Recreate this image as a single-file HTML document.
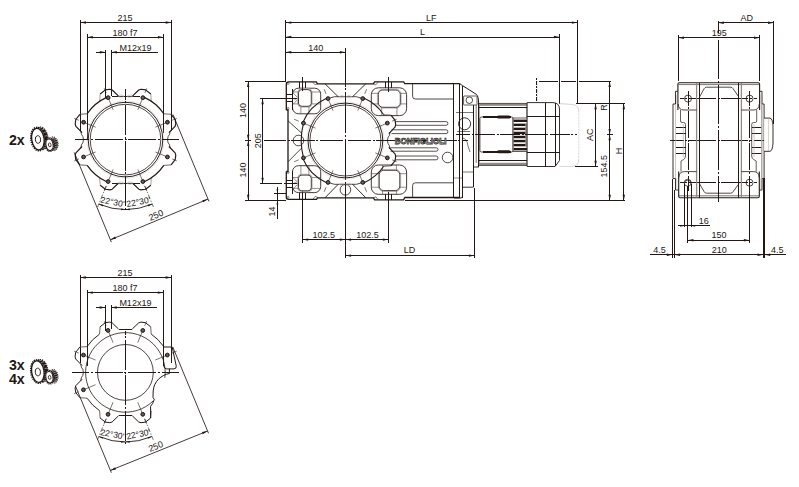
<!DOCTYPE html>
<html><head><meta charset="utf-8"><title>Dimensions</title>
<style>
html,body{margin:0;padding:0;background:#fff;}
body{width:799px;height:487px;overflow:hidden;}
svg{display:block;font-family:"Liberation Sans",sans-serif;}
</style></head><body>
<svg width="799" height="487" viewBox="0 0 799 487">
<rect x="0" y="0" width="799" height="487" fill="#ffffff"/>
<line x1="80.40" y1="22.50" x2="171.30" y2="22.50" stroke="#231815" stroke-width="1.0"  shape-rendering="crispEdges"/>
<polygon points="80.40,22.50 86.00,21.30 86.00,23.70" fill="#231815"/>
<polygon points="171.30,22.50 165.70,23.70 165.70,21.30" fill="#231815"/>
<line x1="80.40" y1="20.00" x2="80.40" y2="130.50" stroke="#231815" stroke-width="1.0"  shape-rendering="crispEdges"/>
<line x1="171.30" y1="20.00" x2="171.30" y2="130.50" stroke="#231815" stroke-width="1.0"  shape-rendering="crispEdges"/>
<text x="125.00" y="20.60" font-size="9" text-anchor="middle" font-weight="normal" fill="#231815" >215</text>
<line x1="87.30" y1="37.25" x2="163.50" y2="37.25" stroke="#231815" stroke-width="1.0"  shape-rendering="crispEdges"/>
<polygon points="87.30,37.25 92.90,36.05 92.90,38.45" fill="#231815"/>
<polygon points="163.50,37.25 157.90,38.45 157.90,36.05" fill="#231815"/>
<line x1="87.30" y1="34.45" x2="87.30" y2="139.60" stroke="#231815" stroke-width="1.0"  shape-rendering="crispEdges"/>
<line x1="163.50" y1="34.45" x2="163.50" y2="132.70" stroke="#231815" stroke-width="1.0"  shape-rendering="crispEdges"/>
<text x="125.00" y="35.55" font-size="9" text-anchor="middle" font-weight="normal" fill="#231815" >180 f7</text>
<line x1="96.00" y1="52.25" x2="105.40" y2="52.25" stroke="#231815" stroke-width="1.0"  shape-rendering="crispEdges"/>
<line x1="111.30" y1="52.25" x2="157.50" y2="52.25" stroke="#231815" stroke-width="1.0"  shape-rendering="crispEdges"/>
<polygon points="105.40,52.25 99.80,53.45 99.80,51.05" fill="#231815"/>
<polygon points="111.30,52.25 116.90,51.05 116.90,53.45" fill="#231815"/>
<line x1="105.40" y1="50.05" x2="105.40" y2="98.10" stroke="#231815" stroke-width="1.0"  shape-rendering="crispEdges"/>
<line x1="111.30" y1="50.05" x2="111.30" y2="96.30" stroke="#231815" stroke-width="1.0"  shape-rendering="crispEdges"/>
<text x="135.50" y="50.55" font-size="9" text-anchor="middle" font-weight="normal" fill="#231815" >M12x19</text>
<line x1="99.70" y1="101.30" x2="100.20" y2="94.00" stroke="#8f8a88" stroke-width="0.8" />
<path d="M100.20,94.00 L105.40,89.90 L109.90,89.30 L112.20,90.00 L118.60,96.20" stroke="#231815" stroke-width="1.15" fill="none" stroke-linejoin="round"/>
<line x1="151.30" y1="101.30" x2="150.80" y2="94.00" stroke="#8f8a88" stroke-width="0.8" />
<path d="M150.80,94.00 L145.60,89.90 L141.10,89.30 L138.80,90.00 L132.40,96.20" stroke="#231815" stroke-width="1.15" fill="none" stroke-linejoin="round"/>
<line x1="111.50" y1="96.20" x2="139.50" y2="96.20" stroke="#231815" stroke-width="1.0"  shape-rendering="crispEdges"/>
<line x1="163.80" y1="113.80" x2="171.10" y2="114.30" stroke="#4a403c" stroke-width="0.8" />
<path d="M171.10,114.30 L175.20,119.50 L175.80,124.00 L175.10,126.30 L168.90,132.70" stroke="#231815" stroke-width="1.15" fill="none" stroke-linejoin="round"/>
<line x1="163.80" y1="165.40" x2="171.10" y2="164.90" stroke="#4a403c" stroke-width="0.8" />
<path d="M171.10,164.90 L175.20,159.70 L175.80,155.20 L175.10,152.90 L168.90,146.50" stroke="#231815" stroke-width="1.15" fill="none" stroke-linejoin="round"/>
<path d="M170.10,131.20 Q170.10,134.60 168.10,136.60 Q166.90,139.60 168.10,142.60 Q170.10,144.60 170.10,148.00" stroke="#231815" stroke-width="0.8" fill="none" />
<line x1="99.70" y1="177.90" x2="100.20" y2="185.20" stroke="#8f8a88" stroke-width="0.8" />
<path d="M100.20,185.20 L105.40,189.30 L109.90,189.90 L112.20,189.20 L118.60,183.00" stroke="#231815" stroke-width="1.15" fill="none" stroke-linejoin="round"/>
<line x1="151.30" y1="177.90" x2="150.80" y2="185.20" stroke="#8f8a88" stroke-width="0.8" />
<path d="M150.80,185.20 L145.60,189.30 L141.10,189.90 L138.80,189.20 L132.40,183.00" stroke="#231815" stroke-width="1.15" fill="none" stroke-linejoin="round"/>
<line x1="111.50" y1="183.00" x2="139.50" y2="183.00" stroke="#231815" stroke-width="1.0"  shape-rendering="crispEdges"/>
<line x1="87.20" y1="113.80" x2="79.90" y2="114.30" stroke="#4a403c" stroke-width="0.8" />
<path d="M79.90,114.30 L75.80,119.50 L75.20,124.00 L75.90,126.30 L82.10,132.70" stroke="#231815" stroke-width="1.15" fill="none" stroke-linejoin="round"/>
<line x1="87.20" y1="165.40" x2="79.90" y2="164.90" stroke="#4a403c" stroke-width="0.8" />
<path d="M79.90,164.90 L75.80,159.70 L75.20,155.20 L75.90,152.90 L82.10,146.50" stroke="#231815" stroke-width="1.15" fill="none" stroke-linejoin="round"/>
<path d="M80.90,131.20 Q80.90,134.60 82.90,136.60 Q84.10,139.60 82.90,142.60 Q80.90,144.60 80.90,148.00" stroke="#231815" stroke-width="0.8" fill="none" />
<path d="M144.29,97.39 A46.2,46.2 0 0 1 163.80,113.77" stroke="#231815" stroke-width="1.2" fill="none" />
<path d="M163.80,165.43 A46.2,46.2 0 0 1 144.29,181.81" stroke="#231815" stroke-width="1.2" fill="none" />
<path d="M106.71,181.81 A46.2,46.2 0 0 1 87.20,165.43" stroke="#231815" stroke-width="1.2" fill="none" />
<path d="M87.20,113.77 A46.2,46.2 0 0 1 106.71,97.39" stroke="#231815" stroke-width="1.2" fill="none" />
<circle cx="125.50" cy="139.60" r="38.60" stroke="#bdb8b6" stroke-width="0.35" fill="none" />
<circle cx="125.50" cy="139.60" r="37.30" stroke="#231815" stroke-width="0.95" fill="none" />
<circle cx="125.50" cy="139.60" r="35.30" stroke="#231815" stroke-width="0.8" fill="none" />
<ellipse cx="121.10" cy="96.10" rx="2.80" ry="1.00" stroke="#b9b4b2" stroke-width="0.7" fill="none" />
<ellipse cx="129.90" cy="96.10" rx="2.80" ry="1.00" stroke="#b9b4b2" stroke-width="0.7" fill="none" />
<ellipse cx="121.10" cy="183.10" rx="2.80" ry="1.00" stroke="#b9b4b2" stroke-width="0.7" fill="none" />
<ellipse cx="129.90" cy="183.10" rx="2.80" ry="1.00" stroke="#b9b4b2" stroke-width="0.7" fill="none" />
<line x1="137.86" y1="109.76" x2="142.87" y2="97.66" stroke="#231815" stroke-width="0.6" />
<line x1="144.83" y1="92.94" x2="146.74" y2="88.32" stroke="#231815" stroke-width="0.6" />
<circle cx="142.87" cy="97.66" r="1.90" stroke="#231815" stroke-width="1.0" fill="#585150" />
<circle cx="142.87" cy="97.66" r="0.60" stroke="#231815" stroke-width="0.35" fill="#cfcac8" />
<line x1="155.34" y1="127.24" x2="167.44" y2="122.23" stroke="#231815" stroke-width="0.6" />
<line x1="172.16" y1="120.27" x2="176.78" y2="118.36" stroke="#231815" stroke-width="0.6" />
<circle cx="167.44" cy="122.23" r="1.90" stroke="#231815" stroke-width="1.0" fill="#585150" />
<circle cx="167.44" cy="122.23" r="0.60" stroke="#231815" stroke-width="0.35" fill="#cfcac8" />
<line x1="155.34" y1="151.96" x2="167.44" y2="156.97" stroke="#231815" stroke-width="0.6" />
<line x1="172.16" y1="158.93" x2="176.78" y2="160.84" stroke="#231815" stroke-width="0.6" />
<circle cx="167.44" cy="156.97" r="1.90" stroke="#231815" stroke-width="1.0" fill="#585150" />
<circle cx="167.44" cy="156.97" r="0.60" stroke="#231815" stroke-width="0.35" fill="#cfcac8" />
<line x1="137.86" y1="169.44" x2="142.87" y2="181.54" stroke="#231815" stroke-width="0.6" />
<line x1="144.83" y1="186.26" x2="146.74" y2="190.88" stroke="#231815" stroke-width="0.6" />
<circle cx="142.87" cy="181.54" r="1.90" stroke="#231815" stroke-width="1.0" fill="#585150" />
<circle cx="142.87" cy="181.54" r="0.60" stroke="#231815" stroke-width="0.35" fill="#cfcac8" />
<line x1="113.14" y1="169.44" x2="108.13" y2="181.54" stroke="#231815" stroke-width="0.6" />
<line x1="106.17" y1="186.26" x2="104.26" y2="190.88" stroke="#231815" stroke-width="0.6" />
<circle cx="108.13" cy="181.54" r="1.90" stroke="#231815" stroke-width="1.0" fill="#585150" />
<circle cx="108.13" cy="181.54" r="0.60" stroke="#231815" stroke-width="0.35" fill="#cfcac8" />
<line x1="95.66" y1="151.96" x2="83.56" y2="156.97" stroke="#231815" stroke-width="0.6" />
<line x1="78.84" y1="158.93" x2="74.22" y2="160.84" stroke="#231815" stroke-width="0.6" />
<circle cx="83.56" cy="156.97" r="1.90" stroke="#231815" stroke-width="1.0" fill="#585150" />
<circle cx="83.56" cy="156.97" r="0.60" stroke="#231815" stroke-width="0.35" fill="#cfcac8" />
<line x1="95.66" y1="127.24" x2="83.56" y2="122.23" stroke="#231815" stroke-width="0.6" />
<line x1="78.84" y1="120.27" x2="74.22" y2="118.36" stroke="#231815" stroke-width="0.6" />
<circle cx="83.56" cy="122.23" r="1.90" stroke="#231815" stroke-width="1.0" fill="#585150" />
<circle cx="83.56" cy="122.23" r="0.60" stroke="#231815" stroke-width="0.35" fill="#cfcac8" />
<line x1="113.14" y1="109.76" x2="108.13" y2="97.66" stroke="#231815" stroke-width="0.6" />
<line x1="106.17" y1="92.94" x2="104.26" y2="88.32" stroke="#231815" stroke-width="0.6" />
<circle cx="108.13" cy="97.66" r="1.90" stroke="#231815" stroke-width="1.0" fill="#585150" />
<circle cx="108.13" cy="97.66" r="0.60" stroke="#231815" stroke-width="0.35" fill="#cfcac8" />
<line x1="125.50" y1="88.80" x2="125.50" y2="210.50" stroke="#231815" stroke-width="1.0" stroke-dasharray="30.0 1.7 2.0 1.7" stroke-dashoffset="19.10" shape-rendering="crispEdges"/>
<line x1="74.80" y1="139.60" x2="178.80" y2="139.60" stroke="#231815" stroke-width="1.0" stroke-dasharray="28.2 1.7 2.0 1.7" stroke-dashoffset="13.80" shape-rendering="crispEdges"/>
<line x1="106.37" y1="185.79" x2="97.56" y2="207.04" stroke="#231815" stroke-width="0.6" stroke-dasharray="5 1.5 1.5 1.5"/>
<line x1="144.63" y1="185.79" x2="153.44" y2="207.04" stroke="#231815" stroke-width="0.6" stroke-dasharray="5 1.5 1.5 1.5"/>
<path d="M98.79,204.09 A69.8,69.8 0 0 0 152.21,204.09" stroke="#231815" stroke-width="0.9" fill="none" />
<polygon points="98.79,204.09 103.24,204.71 102.64,206.40" fill="#231815"/>
<polygon points="152.21,204.09 148.36,206.40 147.76,204.71" fill="#231815"/>
<polygon points="125.50,209.40 121.10,210.30 121.10,208.50" fill="#231815"/>
<polygon points="125.50,209.40 129.90,208.50 129.90,210.30" fill="#231815"/>
<text x="111.90" y="204.80" font-size="8.6" text-anchor="middle" font-weight="normal" fill="#231815" transform="rotate(11 111.90 204.80)" >22°30'</text>
<text x="138.90" y="204.80" font-size="8.6" text-anchor="middle" font-weight="normal" fill="#231815" transform="rotate(-11 138.90 204.80)" >22°30'</text>
<line x1="110.40" y1="239.80" x2="208.00" y2="199.10" stroke="#231815" stroke-width="0.85" />
<polygon points="110.40,239.80 115.11,236.54 116.03,238.75" fill="#231815"/>
<polygon points="208.00,199.10 203.29,202.36 202.37,200.15" fill="#231815"/>
<line x1="74.24" y1="152.50" x2="111.36" y2="242.11" stroke="#231815" stroke-width="0.85" />
<line x1="172.96" y1="114.50" x2="208.96" y2="201.41" stroke="#231815" stroke-width="0.85" />
<text x="157.10" y="218.05" font-size="9" text-anchor="middle" font-weight="normal" fill="#231815" transform="rotate(-22.63653644811932 157.10 218.05)" >250</text>
<text x="16.80" y="144.70" font-size="14.2" text-anchor="middle" font-weight="bold" fill="#231815" >2x</text>
<g transform="translate(37.90 139.10)">
<g transform="rotate(-8)">
<ellipse cx="3.6" cy="-0.3" rx="6.4" ry="11.2" fill="#231815" stroke="#231815" stroke-width="1.6" stroke-dasharray="1.3 0.9"/>
<ellipse cx="0" cy="0" rx="6.9" ry="11.7" fill="#fff" stroke="#231815" stroke-width="1.7" stroke-dasharray="1.3 0.9"/>
<ellipse cx="0" cy="0" rx="6.2" ry="10.9" fill="#fff" stroke="#231815" stroke-width="1.3"/>
<ellipse cx="0" cy="0.4" rx="2.6" ry="3.8" fill="#fff" stroke="#231815" stroke-width="0.9"/>
<line x1="2.86" y1="-10.52" x2="5.86" y2="-10.92" stroke="#fff" stroke-width="0.45"/>
<line x1="4.84" y1="-8.58" x2="7.84" y2="-8.98" stroke="#fff" stroke-width="0.45"/>
<line x1="6.32" y1="-5.60" x2="9.32" y2="-6.00" stroke="#fff" stroke-width="0.45"/>
<line x1="7.10" y1="-1.94" x2="10.10" y2="-2.34" stroke="#fff" stroke-width="0.45"/>
<line x1="6.98" y1="2.90" x2="9.98" y2="2.50" stroke="#fff" stroke-width="0.45"/>
<line x1="5.66" y1="7.20" x2="8.66" y2="6.80" stroke="#fff" stroke-width="0.45"/>
<line x1="3.90" y1="9.70" x2="6.90" y2="9.30" stroke="#fff" stroke-width="0.45"/>
</g>
<g transform="translate(11.6 5.6) rotate(-8)">
<ellipse cx="4.2" cy="-0.4" rx="4.2" ry="6.6" fill="#231815" stroke="#231815" stroke-width="1.4" stroke-dasharray="1.1 0.8"/>
<line x1="1.89" y1="-6.38" x2="5.69" y2="-6.88" stroke="#fff" stroke-width="0.45"/>
<line x1="3.21" y1="-5.41" x2="7.01" y2="-5.91" stroke="#fff" stroke-width="0.45"/>
<line x1="4.24" y1="-3.79" x2="8.04" y2="-4.29" stroke="#fff" stroke-width="0.45"/>
<line x1="4.86" y1="-1.71" x2="8.66" y2="-2.21" stroke="#fff" stroke-width="0.45"/>
<line x1="4.98" y1="0.58" x2="8.78" y2="0.08" stroke="#fff" stroke-width="0.45"/>
<line x1="4.61" y1="2.79" x2="8.41" y2="2.29" stroke="#fff" stroke-width="0.45"/>
<line x1="3.77" y1="4.67" x2="7.57" y2="4.17" stroke="#fff" stroke-width="0.45"/>
<line x1="2.57" y1="5.98" x2="6.37" y2="5.48" stroke="#fff" stroke-width="0.45"/>
<ellipse cx="0" cy="0" rx="4.3" ry="6.7" fill="#fff" stroke="#231815" stroke-width="1.5" stroke-dasharray="1.1 0.8"/>
<ellipse cx="0" cy="0" rx="3.6" ry="5.8" fill="#fff" stroke="#231815" stroke-width="1.1"/>
<ellipse cx="0.2" cy="0.2" rx="1.3" ry="2.0" fill="#fff" stroke="#231815" stroke-width="0.8"/>
</g>
</g>
<line x1="80.30" y1="277.50" x2="171.20" y2="277.50" stroke="#231815" stroke-width="1.0"  shape-rendering="crispEdges"/>
<polygon points="80.30,277.50 85.90,276.30 85.90,278.70" fill="#231815"/>
<polygon points="171.20,277.50 165.60,278.70 165.60,276.30" fill="#231815"/>
<line x1="80.30" y1="275.00" x2="80.30" y2="363.00" stroke="#231815" stroke-width="1.0"  shape-rendering="crispEdges"/>
<line x1="171.20" y1="275.00" x2="171.20" y2="363.00" stroke="#231815" stroke-width="1.0"  shape-rendering="crispEdges"/>
<text x="124.90" y="275.60" font-size="9" text-anchor="middle" font-weight="normal" fill="#231815" >215</text>
<line x1="87.20" y1="292.60" x2="163.40" y2="292.60" stroke="#231815" stroke-width="1.0"  shape-rendering="crispEdges"/>
<polygon points="87.20,292.60 92.80,291.40 92.80,293.80" fill="#231815"/>
<polygon points="163.40,292.60 157.80,293.80 157.80,291.40" fill="#231815"/>
<line x1="87.20" y1="289.80" x2="87.20" y2="365.50" stroke="#231815" stroke-width="1.0"  shape-rendering="crispEdges"/>
<line x1="163.40" y1="289.80" x2="163.40" y2="365.50" stroke="#231815" stroke-width="1.0"  shape-rendering="crispEdges"/>
<text x="124.90" y="290.90" font-size="9" text-anchor="middle" font-weight="normal" fill="#231815" >180 f7</text>
<line x1="95.90" y1="307.50" x2="105.30" y2="307.50" stroke="#231815" stroke-width="1.0"  shape-rendering="crispEdges"/>
<line x1="111.20" y1="307.50" x2="157.40" y2="307.50" stroke="#231815" stroke-width="1.0"  shape-rendering="crispEdges"/>
<polygon points="105.30,307.50 99.70,308.70 99.70,306.30" fill="#231815"/>
<polygon points="111.20,307.50 116.80,306.30 116.80,308.70" fill="#231815"/>
<line x1="105.30" y1="305.30" x2="105.30" y2="331.20" stroke="#231815" stroke-width="1.0"  shape-rendering="crispEdges"/>
<line x1="111.20" y1="305.30" x2="111.20" y2="329.40" stroke="#231815" stroke-width="1.0"  shape-rendering="crispEdges"/>
<text x="135.40" y="305.80" font-size="9" text-anchor="middle" font-weight="normal" fill="#231815" >M12x19</text>
<line x1="99.60" y1="334.10" x2="100.10" y2="326.80" stroke="#4a403c" stroke-width="0.8" />
<path d="M100.10,326.80 L105.30,322.70 L109.80,322.10 L112.10,322.80 L118.50,329.00" stroke="#231815" stroke-width="1.0" fill="none" stroke-linejoin="round"/>
<line x1="151.20" y1="334.10" x2="150.70" y2="326.80" stroke="#4a403c" stroke-width="0.8" />
<path d="M150.70,326.80 L145.50,322.70 L141.00,322.10 L138.70,322.80 L132.30,329.00" stroke="#231815" stroke-width="1.0" fill="none" stroke-linejoin="round"/>
<line x1="118.50" y1="329.00" x2="132.30" y2="329.00" stroke="#231815" stroke-width="1.0"  shape-rendering="crispEdges"/>
<line x1="99.60" y1="410.70" x2="100.10" y2="418.00" stroke="#4a403c" stroke-width="0.8" />
<path d="M100.10,418.00 L105.30,422.10 L109.80,422.70 L112.10,422.00 L118.50,415.80" stroke="#231815" stroke-width="1.0" fill="none" stroke-linejoin="round"/>
<line x1="151.20" y1="410.70" x2="150.70" y2="418.00" stroke="#4a403c" stroke-width="0.8" />
<path d="M150.70,418.00 L145.50,422.10 L141.00,422.70 L138.70,422.00 L132.30,415.80" stroke="#231815" stroke-width="1.0" fill="none" stroke-linejoin="round"/>
<line x1="118.50" y1="415.80" x2="132.30" y2="415.80" stroke="#231815" stroke-width="1.0"  shape-rendering="crispEdges"/>
<line x1="87.10" y1="346.60" x2="79.80" y2="347.10" stroke="#4a403c" stroke-width="0.8" />
<path d="M79.80,347.10 L75.70,352.30 L75.10,356.80 L75.80,359.10 L82.00,365.50" stroke="#231815" stroke-width="1.0" fill="none" stroke-linejoin="round"/>
<line x1="87.10" y1="398.20" x2="79.80" y2="397.70" stroke="#4a403c" stroke-width="0.8" />
<path d="M79.80,397.70 L75.70,392.50 L75.10,388.00 L75.80,385.70 L82.00,379.30" stroke="#231815" stroke-width="1.0" fill="none" stroke-linejoin="round"/>
<path d="M80.80,364.00 Q80.80,367.40 82.80,369.40 Q84.00,372.40 82.80,375.40 Q80.80,377.40 80.80,380.80" stroke="#231815" stroke-width="0.8" fill="none" />
<path d="M151.23,334.10 A46.2,46.2 0 0 1 163.70,346.57" stroke="#231815" stroke-width="0.95" fill="none" />
<path d="M99.57,410.70 A46.2,46.2 0 0 1 87.10,398.23" stroke="#231815" stroke-width="0.95" fill="none" />
<path d="M87.10,346.57 A46.2,46.2 0 0 1 99.57,334.10" stroke="#231815" stroke-width="0.95" fill="none" />
<path d="M163.70,347.00 H172.20 L176.20,365.80 Q176.70,368.90 174.00,368.90 H166.60 Q163.90,368.90 163.80,365.40" stroke="#231815" stroke-width="1.0" fill="none" />
<path d="M169.40,368.90 V373.50 C161.40,374.90 153.80,381.40 153.20,390.90 L153.00,397.40 L154.30,399.40 L152.60,403.50 L150.60,406.30 V418.00" stroke="#231815" stroke-width="1.0" fill="none" />
<path d="M153.05,401.03 A39.8,39.8 0 1 1 164.81,377.94" stroke="#231815" stroke-width="0.8" fill="none" />
<circle cx="125.40" cy="372.40" r="27.90" stroke="#231815" stroke-width="0.8" fill="none" />
<line x1="137.76" y1="342.56" x2="142.77" y2="330.46" stroke="#231815" stroke-width="0.6" />
<line x1="144.73" y1="325.74" x2="146.64" y2="321.12" stroke="#231815" stroke-width="0.6" />
<circle cx="142.77" cy="330.46" r="1.90" stroke="#231815" stroke-width="1.0" fill="#585150" />
<circle cx="142.77" cy="330.46" r="0.60" stroke="#231815" stroke-width="0.35" fill="#cfcac8" />
<line x1="155.24" y1="360.04" x2="167.34" y2="355.03" stroke="#231815" stroke-width="0.6" />
<line x1="172.06" y1="353.07" x2="176.68" y2="351.16" stroke="#231815" stroke-width="0.6" />
<circle cx="167.34" cy="355.03" r="1.90" stroke="#231815" stroke-width="1.0" fill="#585150" />
<circle cx="167.34" cy="355.03" r="0.60" stroke="#231815" stroke-width="0.35" fill="#cfcac8" />
<line x1="137.76" y1="402.24" x2="142.77" y2="414.34" stroke="#231815" stroke-width="0.6" />
<line x1="144.73" y1="419.06" x2="146.64" y2="423.68" stroke="#231815" stroke-width="0.6" />
<circle cx="142.77" cy="414.34" r="1.90" stroke="#231815" stroke-width="1.0" fill="#585150" />
<circle cx="142.77" cy="414.34" r="0.60" stroke="#231815" stroke-width="0.35" fill="#cfcac8" />
<line x1="113.04" y1="402.24" x2="108.03" y2="414.34" stroke="#231815" stroke-width="0.6" />
<line x1="106.07" y1="419.06" x2="104.16" y2="423.68" stroke="#231815" stroke-width="0.6" />
<circle cx="108.03" cy="414.34" r="1.90" stroke="#231815" stroke-width="1.0" fill="#585150" />
<circle cx="108.03" cy="414.34" r="0.60" stroke="#231815" stroke-width="0.35" fill="#cfcac8" />
<line x1="95.56" y1="384.76" x2="83.46" y2="389.77" stroke="#231815" stroke-width="0.6" />
<line x1="78.74" y1="391.73" x2="74.12" y2="393.64" stroke="#231815" stroke-width="0.6" />
<circle cx="83.46" cy="389.77" r="1.90" stroke="#231815" stroke-width="1.0" fill="#585150" />
<circle cx="83.46" cy="389.77" r="0.60" stroke="#231815" stroke-width="0.35" fill="#cfcac8" />
<line x1="95.56" y1="360.04" x2="83.46" y2="355.03" stroke="#231815" stroke-width="0.6" />
<line x1="78.74" y1="353.07" x2="74.12" y2="351.16" stroke="#231815" stroke-width="0.6" />
<circle cx="83.46" cy="355.03" r="1.90" stroke="#231815" stroke-width="1.0" fill="#585150" />
<circle cx="83.46" cy="355.03" r="0.60" stroke="#231815" stroke-width="0.35" fill="#cfcac8" />
<line x1="113.04" y1="342.56" x2="108.03" y2="330.46" stroke="#231815" stroke-width="0.6" />
<line x1="106.07" y1="325.74" x2="104.16" y2="321.12" stroke="#231815" stroke-width="0.6" />
<circle cx="108.03" cy="330.46" r="1.90" stroke="#231815" stroke-width="1.0" fill="#585150" />
<circle cx="108.03" cy="330.46" r="0.60" stroke="#231815" stroke-width="0.35" fill="#cfcac8" />
<line x1="125.40" y1="330.50" x2="125.40" y2="443.50" stroke="#231815" stroke-width="1.0" stroke-dasharray="30.0 1.7 2.0 1.7" stroke-dashoffset="26.00" shape-rendering="crispEdges"/>
<line x1="71.50" y1="372.40" x2="179.00" y2="372.40" stroke="#231815" stroke-width="1.0" stroke-dasharray="28.2 1.7 2.0 1.7" stroke-dashoffset="10.60" shape-rendering="crispEdges"/>
<line x1="106.27" y1="418.59" x2="97.46" y2="439.84" stroke="#231815" stroke-width="0.6" stroke-dasharray="5 1.5 1.5 1.5"/>
<line x1="144.53" y1="418.59" x2="153.34" y2="439.84" stroke="#231815" stroke-width="0.6" stroke-dasharray="5 1.5 1.5 1.5"/>
<path d="M98.84,436.52 A69.4,69.4 0 0 0 151.96,436.52" stroke="#231815" stroke-width="0.9" fill="none" />
<polygon points="98.84,436.52 103.29,437.14 102.69,438.83" fill="#231815"/>
<polygon points="151.96,436.52 148.11,438.83 147.51,437.14" fill="#231815"/>
<polygon points="125.40,441.80 121.00,442.70 121.00,440.90" fill="#231815"/>
<polygon points="125.40,441.80 129.80,440.90 129.80,442.70" fill="#231815"/>
<text x="111.80" y="437.20" font-size="8.6" text-anchor="middle" font-weight="normal" fill="#231815" transform="rotate(11 111.80 437.20)" >22°30'</text>
<text x="138.80" y="437.20" font-size="8.6" text-anchor="middle" font-weight="normal" fill="#231815" transform="rotate(-11 138.80 437.20)" >22°30'</text>
<line x1="110.40" y1="470.40" x2="207.60" y2="431.00" stroke="#231815" stroke-width="0.85" />
<polygon points="110.40,470.40 115.14,467.18 116.04,469.41" fill="#231815"/>
<polygon points="207.60,431.00 202.86,434.22 201.96,431.99" fill="#231815"/>
<line x1="75.44" y1="386.00" x2="111.36" y2="472.71" stroke="#231815" stroke-width="0.85" />
<line x1="172.81" y1="347.00" x2="208.56" y2="433.31" stroke="#231815" stroke-width="0.85" />
<text x="156.91" y="449.28" font-size="9" text-anchor="middle" font-weight="normal" fill="#231815" transform="rotate(-22.065162982218705 156.91 449.28)" >250</text>
<text x="16.80" y="369.80" font-size="14.2" text-anchor="middle" font-weight="bold" fill="#231815" >3x</text>
<text x="16.80" y="383.80" font-size="14.2" text-anchor="middle" font-weight="bold" fill="#231815" >4x</text>
<g transform="translate(37.80 371.60)">
<g transform="rotate(-8)">
<ellipse cx="3.6" cy="-0.3" rx="6.4" ry="11.2" fill="#231815" stroke="#231815" stroke-width="1.6" stroke-dasharray="1.3 0.9"/>
<ellipse cx="0" cy="0" rx="6.9" ry="11.7" fill="#fff" stroke="#231815" stroke-width="1.7" stroke-dasharray="1.3 0.9"/>
<ellipse cx="0" cy="0" rx="6.2" ry="10.9" fill="#fff" stroke="#231815" stroke-width="1.3"/>
<ellipse cx="0" cy="0.4" rx="2.6" ry="3.8" fill="#fff" stroke="#231815" stroke-width="0.9"/>
<line x1="2.86" y1="-10.52" x2="5.86" y2="-10.92" stroke="#fff" stroke-width="0.45"/>
<line x1="4.84" y1="-8.58" x2="7.84" y2="-8.98" stroke="#fff" stroke-width="0.45"/>
<line x1="6.32" y1="-5.60" x2="9.32" y2="-6.00" stroke="#fff" stroke-width="0.45"/>
<line x1="7.10" y1="-1.94" x2="10.10" y2="-2.34" stroke="#fff" stroke-width="0.45"/>
<line x1="6.98" y1="2.90" x2="9.98" y2="2.50" stroke="#fff" stroke-width="0.45"/>
<line x1="5.66" y1="7.20" x2="8.66" y2="6.80" stroke="#fff" stroke-width="0.45"/>
<line x1="3.90" y1="9.70" x2="6.90" y2="9.30" stroke="#fff" stroke-width="0.45"/>
</g>
<g transform="translate(11.6 5.6) rotate(-8)">
<ellipse cx="4.2" cy="-0.4" rx="4.2" ry="6.6" fill="#231815" stroke="#231815" stroke-width="1.4" stroke-dasharray="1.1 0.8"/>
<line x1="1.89" y1="-6.38" x2="5.69" y2="-6.88" stroke="#fff" stroke-width="0.45"/>
<line x1="3.21" y1="-5.41" x2="7.01" y2="-5.91" stroke="#fff" stroke-width="0.45"/>
<line x1="4.24" y1="-3.79" x2="8.04" y2="-4.29" stroke="#fff" stroke-width="0.45"/>
<line x1="4.86" y1="-1.71" x2="8.66" y2="-2.21" stroke="#fff" stroke-width="0.45"/>
<line x1="4.98" y1="0.58" x2="8.78" y2="0.08" stroke="#fff" stroke-width="0.45"/>
<line x1="4.61" y1="2.79" x2="8.41" y2="2.29" stroke="#fff" stroke-width="0.45"/>
<line x1="3.77" y1="4.67" x2="7.57" y2="4.17" stroke="#fff" stroke-width="0.45"/>
<line x1="2.57" y1="5.98" x2="6.37" y2="5.48" stroke="#fff" stroke-width="0.45"/>
<ellipse cx="0" cy="0" rx="4.3" ry="6.7" fill="#fff" stroke="#231815" stroke-width="1.5" stroke-dasharray="1.1 0.8"/>
<ellipse cx="0" cy="0" rx="3.6" ry="5.8" fill="#fff" stroke="#231815" stroke-width="1.1"/>
<ellipse cx="0.2" cy="0.2" rx="1.3" ry="2.0" fill="#fff" stroke="#231815" stroke-width="0.8"/>
</g>
</g>
<line x1="285.70" y1="22.60" x2="577.50" y2="22.60" stroke="#231815" stroke-width="1.0"  shape-rendering="crispEdges"/>
<polygon points="285.70,22.60 291.30,21.40 291.30,23.80" fill="#231815"/>
<polygon points="577.50,22.60 571.90,23.80 571.90,21.40" fill="#231815"/>
<line x1="285.70" y1="20.20" x2="285.70" y2="81.30" stroke="#231815" stroke-width="1.0"  shape-rendering="crispEdges"/>
<line x1="577.50" y1="20.20" x2="577.50" y2="103.90" stroke="#231815" stroke-width="1.0"  shape-rendering="crispEdges"/>
<text x="431.30" y="20.60" font-size="9" text-anchor="middle" font-weight="normal" fill="#231815" >LF</text>
<line x1="285.70" y1="37.00" x2="559.50" y2="37.00" stroke="#231815" stroke-width="1.0"  shape-rendering="crispEdges"/>
<polygon points="285.70,37.00 291.30,35.80 291.30,38.20" fill="#231815"/>
<polygon points="559.50,37.00 553.90,38.20 553.90,35.80" fill="#231815"/>
<line x1="559.50" y1="34.00" x2="559.50" y2="103.90" stroke="#231815" stroke-width="1.0"  shape-rendering="crispEdges"/>
<text x="422.40" y="35.20" font-size="9" text-anchor="middle" font-weight="normal" fill="#231815" >L</text>
<line x1="285.70" y1="52.30" x2="345.50" y2="52.30" stroke="#231815" stroke-width="1.0"  shape-rendering="crispEdges"/>
<polygon points="285.70,52.30 291.30,51.10 291.30,53.50" fill="#231815"/>
<polygon points="345.50,52.30 339.90,53.50 339.90,51.10" fill="#231815"/>
<text x="315.70" y="50.60" font-size="9" text-anchor="middle" font-weight="normal" fill="#231815" >140</text>
<line x1="345.40" y1="48.30" x2="345.40" y2="203.00" stroke="#231815" stroke-width="1.0" stroke-dasharray="41.3 1.7 2.0 1.7" stroke-dashoffset="3.10" shape-rendering="crispEdges"/>
<line x1="345.40" y1="200.50" x2="345.40" y2="258.00" stroke="#231815" stroke-width="1.0"  shape-rendering="crispEdges"/>
<line x1="245.00" y1="140.40" x2="251.00" y2="140.40" stroke="#231815" stroke-width="1.0"  shape-rendering="crispEdges"/>
<line x1="264.00" y1="140.40" x2="468.00" y2="140.40" stroke="#231815" stroke-width="1.0" stroke-dasharray="23.4 1.6 1.8 1.6" stroke-dashoffset="1.30" shape-rendering="crispEdges"/>
<line x1="245.00" y1="81.50" x2="285.70" y2="81.50" stroke="#231815" stroke-width="1.0"  shape-rendering="crispEdges"/>
<line x1="245.00" y1="200.30" x2="285.80" y2="200.30" stroke="#231815" stroke-width="1.0"  shape-rendering="crispEdges"/>
<line x1="248.20" y1="81.50" x2="248.20" y2="200.30" stroke="#231815" stroke-width="1.0"  shape-rendering="crispEdges"/>
<polygon points="248.20,81.50 249.40,87.10 247.00,87.10" fill="#231815"/>
<polygon points="248.20,140.40 247.00,134.80 249.40,134.80" fill="#231815"/>
<polygon points="248.20,140.40 249.40,146.00 247.00,146.00" fill="#231815"/>
<polygon points="248.20,200.30 247.00,194.70 249.40,194.70" fill="#231815"/>
<text x="246.30" y="110.40" font-size="9" text-anchor="middle" font-weight="normal" fill="#231815" transform="rotate(-90 246.30 110.40)" >140</text>
<text x="246.30" y="170.10" font-size="9" text-anchor="middle" font-weight="normal" fill="#231815" transform="rotate(-90 246.30 170.10)" >140</text>
<line x1="260.00" y1="98.60" x2="298.50" y2="98.60" stroke="#231815" stroke-width="1.0"  shape-rendering="crispEdges"/>
<line x1="260.00" y1="183.30" x2="282.00" y2="183.30" stroke="#231815" stroke-width="1.0"  shape-rendering="crispEdges"/>
<line x1="283.50" y1="183.30" x2="298.50" y2="183.30" stroke="#231815" stroke-width="1.0"  shape-rendering="crispEdges"/>
<line x1="262.60" y1="98.60" x2="262.60" y2="183.30" stroke="#231815" stroke-width="1.0"  shape-rendering="crispEdges"/>
<polygon points="262.60,98.60 263.80,104.20 261.40,104.20" fill="#231815"/>
<polygon points="262.60,183.30 261.40,177.70 263.80,177.70" fill="#231815"/>
<polygon points="298.80,98.60 294.60,99.50 294.60,97.70" fill="#231815"/>
<polygon points="298.80,183.30 294.60,184.20 294.60,182.40" fill="#231815"/>
<text x="260.80" y="140.70" font-size="9" text-anchor="middle" font-weight="normal" fill="#231815" transform="rotate(-90 260.80 140.70)" >205</text>
<line x1="274.00" y1="193.40" x2="285.80" y2="193.40" stroke="#231815" stroke-width="1.0"  shape-rendering="crispEdges"/>
<line x1="277.40" y1="187.00" x2="277.40" y2="218.90" stroke="#231815" stroke-width="1.0"  shape-rendering="crispEdges"/>
<polygon points="277.40,193.40 276.50,189.20 278.30,189.20" fill="#231815"/>
<polygon points="277.40,200.30 278.30,204.50 276.50,204.50" fill="#231815"/>
<text x="274.80" y="211.60" font-size="9" text-anchor="middle" font-weight="normal" fill="#231815" transform="rotate(-90 274.80 211.60)" >14</text>
<line x1="302.60" y1="189.00" x2="302.60" y2="242.60" stroke="#231815" stroke-width="1.0"  shape-rendering="crispEdges"/>
<line x1="388.50" y1="189.00" x2="388.50" y2="242.60" stroke="#231815" stroke-width="1.0"  shape-rendering="crispEdges"/>
<line x1="302.60" y1="239.60" x2="345.50" y2="239.60" stroke="#231815" stroke-width="1.0"  shape-rendering="crispEdges"/>
<polygon points="302.60,239.60 308.20,238.40 308.20,240.80" fill="#231815"/>
<polygon points="345.50,239.60 339.90,240.80 339.90,238.40" fill="#231815"/>
<line x1="345.50" y1="239.60" x2="388.50" y2="239.60" stroke="#231815" stroke-width="1.0"  shape-rendering="crispEdges"/>
<polygon points="345.50,239.60 351.10,238.40 351.10,240.80" fill="#231815"/>
<polygon points="388.50,239.60 382.90,240.80 382.90,238.40" fill="#231815"/>
<text x="323.80" y="237.60" font-size="9" text-anchor="middle" font-weight="normal" fill="#231815" >102.5</text>
<text x="367.60" y="237.60" font-size="9" text-anchor="middle" font-weight="normal" fill="#231815" >102.5</text>
<line x1="345.50" y1="255.60" x2="474.50" y2="255.60" stroke="#231815" stroke-width="1.0"  shape-rendering="crispEdges"/>
<polygon points="345.50,255.60 351.10,254.40 351.10,256.80" fill="#231815"/>
<polygon points="474.50,255.60 468.90,256.80 468.90,254.40" fill="#231815"/>
<line x1="474.50" y1="188.00" x2="474.50" y2="258.00" stroke="#231815" stroke-width="1.0"  shape-rendering="crispEdges"/>
<text x="409.40" y="253.30" font-size="9" text-anchor="middle" font-weight="normal" fill="#231815" >LD</text>
<line x1="405.00" y1="200.40" x2="625.30" y2="200.40" stroke="#231815" stroke-width="1.0"  shape-rendering="crispEdges"/>
<line x1="539.00" y1="81.40" x2="558.30" y2="81.40" stroke="#231815" stroke-width="1.0"  shape-rendering="crispEdges"/>
<line x1="560.70" y1="81.40" x2="576.30" y2="81.40" stroke="#231815" stroke-width="1.0"  shape-rendering="crispEdges"/>
<line x1="578.70" y1="81.40" x2="611.00" y2="81.40" stroke="#231815" stroke-width="1.0"  shape-rendering="crispEdges"/>
<line x1="609.70" y1="81.40" x2="609.70" y2="200.30" stroke="#231815" stroke-width="1.0"  shape-rendering="crispEdges"/>
<polygon points="609.70,81.40 610.90,87.00 608.50,87.00" fill="#231815"/>
<polygon points="609.70,134.60 608.50,129.00 610.90,129.00" fill="#231815"/>
<polygon points="609.70,134.60 610.90,140.20 608.50,140.20" fill="#231815"/>
<polygon points="609.70,200.30 608.50,194.70 610.90,194.70" fill="#231815"/>
<line x1="607.40" y1="134.60" x2="613.00" y2="134.60" stroke="#231815" stroke-width="1.0"  shape-rendering="crispEdges"/>
<line x1="575.80" y1="103.70" x2="625.30" y2="103.70" stroke="#231815" stroke-width="1.0"  shape-rendering="crispEdges"/>
<line x1="623.80" y1="103.70" x2="623.80" y2="200.30" stroke="#231815" stroke-width="1.0"  shape-rendering="crispEdges"/>
<polygon points="623.80,103.70 625.00,109.30 622.60,109.30" fill="#231815"/>
<polygon points="623.80,200.30 622.60,194.70 625.00,194.70" fill="#231815"/>
<line x1="595.60" y1="103.70" x2="595.60" y2="166.40" stroke="#231815" stroke-width="1.0"  shape-rendering="crispEdges"/>
<polygon points="595.60,103.70 596.80,109.30 594.40,109.30" fill="#231815"/>
<polygon points="595.60,166.40 594.40,160.80 596.80,160.80" fill="#231815"/>
<line x1="575.30" y1="166.40" x2="598.00" y2="166.40" stroke="#231815" stroke-width="1.0"  shape-rendering="crispEdges"/>
<text x="606.90" y="107.40" font-size="9" text-anchor="middle" font-weight="normal" fill="#231815" transform="rotate(-90 606.90 107.40)" >R</text>
<text x="593.40" y="134.70" font-size="9" text-anchor="middle" font-weight="normal" fill="#231815" transform="rotate(-90 593.40 134.70)" >AC</text>
<text x="606.90" y="166.30" font-size="9" text-anchor="middle" font-weight="normal" fill="#231815" transform="rotate(-90 606.90 166.30)" >154.5</text>
<text x="621.60" y="151.00" font-size="9" text-anchor="middle" font-weight="normal" fill="#231815" transform="rotate(-90 621.60 151.00)" >H</text>
<line x1="536.50" y1="77.60" x2="536.50" y2="107.40" stroke="#231815" stroke-width="1.0" stroke-dasharray="1.1 0.5" shape-rendering="crispEdges"/>
<line x1="537.60" y1="81.00" x2="537.60" y2="107.40" stroke="#b5b0ae" stroke-width="0.6" stroke-dasharray="0.9 0.6"/>
<path d="M286.3,110 V84 Q286.3,81.8 288.5,81.8 H316.3 L317.5,83.8 H373.4 L374.6,81.8 H403.6 L404.8,83.7 H459.9" stroke="#231815" stroke-width="1.3" fill="none" />
<path d="M286.3,171.5 V197.3 Q286.3,199.4 288.5,199.4 H316.5 L317.5,197.8 H373.4 L374.6,199.9 H403.6 L404.8,197.5 H459.9" stroke="#231815" stroke-width="1.3" fill="none" />
<path d="M286.3,110 H288 V171.5 H286.3" stroke="#231815" stroke-width="1.3" fill="none" />
<line x1="286.30" y1="94.40" x2="292.50" y2="94.40" stroke="#231815" stroke-width="1.0"  shape-rendering="crispEdges"/>
<line x1="286.30" y1="98.60" x2="292.50" y2="98.60" stroke="#231815" stroke-width="1.0"  shape-rendering="crispEdges"/>
<line x1="286.30" y1="101.40" x2="292.50" y2="101.40" stroke="#231815" stroke-width="1.0"  shape-rendering="crispEdges"/>
<line x1="286.30" y1="180.40" x2="292.50" y2="180.40" stroke="#231815" stroke-width="1.0"  shape-rendering="crispEdges"/>
<line x1="286.30" y1="183.30" x2="292.50" y2="183.30" stroke="#231815" stroke-width="1.0"  shape-rendering="crispEdges"/>
<line x1="286.30" y1="187.60" x2="292.50" y2="187.60" stroke="#231815" stroke-width="1.0"  shape-rendering="crispEdges"/>
<line x1="292.50" y1="88.50" x2="292.50" y2="110.00" stroke="#231815" stroke-width="1.0"  shape-rendering="crispEdges"/>
<line x1="292.50" y1="171.00" x2="292.50" y2="194.00" stroke="#231815" stroke-width="1.0"  shape-rendering="crispEdges"/>
<rect x="287.20" y="82.60" width="1.80" height="1.80" rx="0.5" stroke="#231815" stroke-width="0.5" fill="none" />
<rect x="287.20" y="107.60" width="1.80" height="1.80" rx="0.5" stroke="#231815" stroke-width="0.5" fill="none" />
<rect x="287.20" y="171.60" width="1.80" height="1.80" rx="0.5" stroke="#231815" stroke-width="0.5" fill="none" />
<rect x="287.20" y="196.40" width="1.80" height="1.80" rx="0.5" stroke="#231815" stroke-width="0.5" fill="none" />
<line x1="292.80" y1="92.60" x2="298.60" y2="98.60" stroke="#231815" stroke-width="0.5" />
<line x1="292.80" y1="104.60" x2="298.60" y2="98.60" stroke="#231815" stroke-width="0.5" />
<line x1="292.80" y1="177.30" x2="298.60" y2="183.30" stroke="#231815" stroke-width="0.5" />
<line x1="292.80" y1="189.30" x2="298.60" y2="183.30" stroke="#231815" stroke-width="0.5" />
<circle cx="298.50" cy="140.50" r="5.30" stroke="#231815" stroke-width="0.8" fill="none" />
<line x1="288.00" y1="120.80" x2="301.70" y2="133.20" stroke="#231815" stroke-width="0.8" />
<line x1="288.00" y1="161.80" x2="301.70" y2="148.00" stroke="#231815" stroke-width="0.8" />
<circle cx="345.40" cy="189.80" r="5.30" stroke="#231815" stroke-width="0.8" fill="none" />
<rect x="292.50" y="88.20" width="28.20" height="25.60" rx="6" stroke="#231815" stroke-width="0.85" fill="none" />
<rect x="297.60" y="88.70" width="14.60" height="18.50" rx="4.0" stroke="#bcb7b5" stroke-width="0.9" fill="none" />
<rect x="298.50" y="89.60" width="12.80" height="16.70" rx="3.2" stroke="#231815" stroke-width="0.85" fill="#fff" />
<line x1="292.50" y1="92.00" x2="298.50" y2="92.00" stroke="#4e4541" stroke-width="0.6" />
<line x1="292.50" y1="103.90" x2="298.50" y2="103.90" stroke="#4e4541" stroke-width="0.6" />
<line x1="311.30" y1="92.00" x2="320.70" y2="92.00" stroke="#4e4541" stroke-width="0.6" />
<line x1="311.30" y1="103.90" x2="320.70" y2="103.90" stroke="#4e4541" stroke-width="0.6" />
<line x1="300.90" y1="106.30" x2="300.90" y2="113.80" stroke="#4e4541" stroke-width="0.6" />
<line x1="308.90" y1="106.30" x2="308.90" y2="113.80" stroke="#4e4541" stroke-width="0.6" />
<rect x="371.30" y="87.80" width="35.30" height="27.80" rx="7" stroke="#231815" stroke-width="0.85" fill="none" />
<rect x="377.40" y="89.10" width="23.80" height="19.10" rx="5.3" stroke="#bcb7b5" stroke-width="0.9" fill="none" />
<rect x="378.30" y="90.00" width="22.00" height="17.30" rx="4.5" stroke="#231815" stroke-width="0.85" fill="#fff" />
<line x1="371.30" y1="93.38" x2="378.30" y2="93.38" stroke="#4e4541" stroke-width="0.6" />
<line x1="371.30" y1="103.92" x2="378.30" y2="103.92" stroke="#4e4541" stroke-width="0.6" />
<line x1="400.30" y1="93.38" x2="406.60" y2="93.38" stroke="#4e4541" stroke-width="0.6" />
<line x1="400.30" y1="103.92" x2="406.60" y2="103.92" stroke="#4e4541" stroke-width="0.6" />
<line x1="381.68" y1="107.30" x2="381.68" y2="115.60" stroke="#4e4541" stroke-width="0.6" />
<line x1="396.93" y1="107.30" x2="396.93" y2="115.60" stroke="#4e4541" stroke-width="0.6" />
<rect x="292.50" y="165.70" width="28.20" height="26.90" rx="6" stroke="#231815" stroke-width="0.85" fill="none" />
<rect x="297.60" y="174.20" width="14.60" height="17.50" rx="4.0" stroke="#bcb7b5" stroke-width="0.9" fill="none" />
<rect x="298.50" y="175.10" width="12.80" height="15.70" rx="3.2" stroke="#231815" stroke-width="0.85" fill="#fff" />
<line x1="292.50" y1="177.50" x2="298.50" y2="177.50" stroke="#4e4541" stroke-width="0.6" />
<line x1="292.50" y1="188.40" x2="298.50" y2="188.40" stroke="#4e4541" stroke-width="0.6" />
<line x1="311.30" y1="177.50" x2="320.70" y2="177.50" stroke="#4e4541" stroke-width="0.6" />
<line x1="311.30" y1="188.40" x2="320.70" y2="188.40" stroke="#4e4541" stroke-width="0.6" />
<line x1="300.90" y1="165.70" x2="300.90" y2="175.10" stroke="#4e4541" stroke-width="0.6" />
<line x1="308.90" y1="165.70" x2="308.90" y2="175.10" stroke="#4e4541" stroke-width="0.6" />
<rect x="371.30" y="165.00" width="35.30" height="29.30" rx="7" stroke="#231815" stroke-width="0.85" fill="none" />
<rect x="378.30" y="169.40" width="22.40" height="22.10" rx="5.3" stroke="#bcb7b5" stroke-width="0.9" fill="none" />
<rect x="379.20" y="170.30" width="20.60" height="20.30" rx="4.5" stroke="#231815" stroke-width="0.85" fill="#fff" />
<line x1="371.30" y1="173.68" x2="379.20" y2="173.68" stroke="#4e4541" stroke-width="0.6" />
<line x1="371.30" y1="187.22" x2="379.20" y2="187.22" stroke="#4e4541" stroke-width="0.6" />
<line x1="399.80" y1="173.68" x2="406.60" y2="173.68" stroke="#4e4541" stroke-width="0.6" />
<line x1="399.80" y1="187.22" x2="406.60" y2="187.22" stroke="#4e4541" stroke-width="0.6" />
<line x1="382.57" y1="165.00" x2="382.57" y2="170.30" stroke="#4e4541" stroke-width="0.6" />
<line x1="396.43" y1="165.00" x2="396.43" y2="170.30" stroke="#4e4541" stroke-width="0.6" />
<line x1="382.57" y1="190.60" x2="382.57" y2="194.30" stroke="#4e4541" stroke-width="0.6" />
<line x1="396.43" y1="190.60" x2="396.43" y2="194.30" stroke="#4e4541" stroke-width="0.6" />
<line x1="299.40" y1="82.00" x2="299.40" y2="88.00" stroke="#231815" stroke-width="1.0"  shape-rendering="crispEdges"/>
<line x1="299.40" y1="192.80" x2="299.40" y2="199.00" stroke="#231815" stroke-width="1.0"  shape-rendering="crispEdges"/>
<line x1="305.70" y1="82.00" x2="305.70" y2="88.00" stroke="#231815" stroke-width="1.0"  shape-rendering="crispEdges"/>
<line x1="305.70" y1="192.80" x2="305.70" y2="199.00" stroke="#231815" stroke-width="1.0"  shape-rendering="crispEdges"/>
<line x1="302.60" y1="76.90" x2="302.60" y2="91.30" stroke="#231815" stroke-width="1.0"  shape-rendering="crispEdges"/>
<line x1="385.50" y1="82.00" x2="385.50" y2="88.00" stroke="#231815" stroke-width="1.0"  shape-rendering="crispEdges"/>
<line x1="385.50" y1="194.40" x2="385.50" y2="199.60" stroke="#231815" stroke-width="1.0"  shape-rendering="crispEdges"/>
<line x1="391.50" y1="82.00" x2="391.50" y2="88.00" stroke="#231815" stroke-width="1.0"  shape-rendering="crispEdges"/>
<line x1="391.50" y1="194.40" x2="391.50" y2="199.60" stroke="#231815" stroke-width="1.0"  shape-rendering="crispEdges"/>
<line x1="388.50" y1="76.80" x2="388.50" y2="91.50" stroke="#231815" stroke-width="1.0"  shape-rendering="crispEdges"/>
<path d="M312.8,82.2 L315.1,84.8 L317.5,83.8" stroke="#231815" stroke-width="0.6" fill="none" />
<path d="M313.0,199.0 L315.3,196.4 L317.7,197.4" stroke="#231815" stroke-width="0.6" fill="none" />
<path d="M378.1,82.2 L375.8,84.8 L373.40000000000003,83.8" stroke="#231815" stroke-width="0.6" fill="none" />
<path d="M378.1,199.5 L375.8,196.9 L373.40000000000003,197.9" stroke="#231815" stroke-width="0.6" fill="none" />
<path d="M303.50,123.10 Q298.90,140.50 303.50,157.90" stroke="#231815" stroke-width="1.1" fill="none" />
<path d="M302.72,122.82 A46.2,46.2 0 0 1 326.61,98.29" stroke="#231815" stroke-width="1.05" fill="none" />
<path d="M364.19,98.29 A46.2,46.2 0 0 1 383.70,114.67" stroke="#231815" stroke-width="1.05" fill="none" />
<path d="M383.70,166.33 A46.2,46.2 0 0 1 364.19,182.71" stroke="#231815" stroke-width="1.05" fill="none" />
<path d="M326.61,182.71 A46.2,46.2 0 0 1 302.72,158.18" stroke="#231815" stroke-width="1.05" fill="none" />
<line x1="383.70" y1="114.70" x2="391.00" y2="115.20" stroke="#4a403c" stroke-width="0.8" />
<path d="M391.00,115.20 L395.10,120.40 L395.70,124.90 L395.00,127.20 L388.80,133.60" stroke="#231815" stroke-width="1.15" fill="none" stroke-linejoin="round"/>
<line x1="383.70" y1="166.30" x2="391.00" y2="165.80" stroke="#4a403c" stroke-width="0.8" />
<path d="M391.00,165.80 L395.10,160.60 L395.70,156.10 L395.00,153.80 L388.80,147.40" stroke="#231815" stroke-width="1.15" fill="none" stroke-linejoin="round"/>
<path d="M390.00,132.10 Q390.00,135.50 388.00,137.50 Q386.80,140.50 388.00,143.50 Q390.00,145.50 390.00,148.90" stroke="#231815" stroke-width="0.8" fill="none" />
<path d="M328.90,98.30 L334.40,96.70 H356.40 L361.90,98.30" stroke="#231815" stroke-width="0.8" fill="none" />
<line x1="338.20" y1="96.70" x2="325.00" y2="83.80" stroke="#231815" stroke-width="0.9" />
<line x1="352.60" y1="96.70" x2="365.80" y2="83.80" stroke="#231815" stroke-width="0.9" />
<ellipse cx="341.80" cy="96.70" rx="2.20" ry="1.10" stroke="#b9b4b2" stroke-width="0.6" fill="none" />
<ellipse cx="349.00" cy="96.70" rx="2.20" ry="1.10" stroke="#b9b4b2" stroke-width="0.6" fill="none" />
<path d="M328.90,182.70 L334.40,184.30 H356.40 L361.90,182.70" stroke="#231815" stroke-width="0.8" fill="none" />
<line x1="338.20" y1="184.30" x2="325.00" y2="197.80" stroke="#231815" stroke-width="0.9" />
<line x1="352.60" y1="184.30" x2="365.80" y2="197.80" stroke="#231815" stroke-width="0.9" />
<ellipse cx="341.80" cy="184.30" rx="2.20" ry="1.10" stroke="#b9b4b2" stroke-width="0.6" fill="none" />
<ellipse cx="349.00" cy="184.30" rx="2.20" ry="1.10" stroke="#b9b4b2" stroke-width="0.6" fill="none" />
<circle cx="345.40" cy="140.50" r="38.70" stroke="#bdb8b6" stroke-width="0.35" fill="none" />
<circle cx="345.40" cy="140.50" r="37.40" stroke="#231815" stroke-width="0.95" fill="none" />
<circle cx="345.40" cy="140.50" r="35.50" stroke="#231815" stroke-width="0.8" fill="none" />
<line x1="357.76" y1="110.66" x2="362.77" y2="98.56" stroke="#231815" stroke-width="0.6" />
<line x1="364.73" y1="93.84" x2="366.64" y2="89.22" stroke="#231815" stroke-width="0.6" />
<circle cx="362.77" cy="98.56" r="1.90" stroke="#231815" stroke-width="1.0" fill="#585150" />
<circle cx="362.77" cy="98.56" r="0.60" stroke="#231815" stroke-width="0.35" fill="#cfcac8" />
<line x1="375.24" y1="128.14" x2="387.34" y2="123.13" stroke="#231815" stroke-width="0.6" />
<line x1="392.06" y1="121.17" x2="396.68" y2="119.26" stroke="#231815" stroke-width="0.6" />
<circle cx="387.34" cy="123.13" r="1.90" stroke="#231815" stroke-width="1.0" fill="#585150" />
<circle cx="387.34" cy="123.13" r="0.60" stroke="#231815" stroke-width="0.35" fill="#cfcac8" />
<line x1="375.24" y1="152.86" x2="387.34" y2="157.87" stroke="#231815" stroke-width="0.6" />
<line x1="392.06" y1="159.83" x2="396.68" y2="161.74" stroke="#231815" stroke-width="0.6" />
<circle cx="387.34" cy="157.87" r="1.90" stroke="#231815" stroke-width="1.0" fill="#585150" />
<circle cx="387.34" cy="157.87" r="0.60" stroke="#231815" stroke-width="0.35" fill="#cfcac8" />
<line x1="357.76" y1="170.34" x2="362.77" y2="182.44" stroke="#231815" stroke-width="0.6" />
<line x1="364.73" y1="187.16" x2="366.64" y2="191.78" stroke="#231815" stroke-width="0.6" />
<circle cx="362.77" cy="182.44" r="1.90" stroke="#231815" stroke-width="1.0" fill="#585150" />
<circle cx="362.77" cy="182.44" r="0.60" stroke="#231815" stroke-width="0.35" fill="#cfcac8" />
<line x1="333.04" y1="170.34" x2="328.03" y2="182.44" stroke="#231815" stroke-width="0.6" />
<line x1="326.07" y1="187.16" x2="324.16" y2="191.78" stroke="#231815" stroke-width="0.6" />
<circle cx="328.03" cy="182.44" r="1.90" stroke="#231815" stroke-width="1.0" fill="#585150" />
<circle cx="328.03" cy="182.44" r="0.60" stroke="#231815" stroke-width="0.35" fill="#cfcac8" />
<line x1="315.56" y1="152.86" x2="303.46" y2="157.87" stroke="#231815" stroke-width="0.6" />
<line x1="298.74" y1="159.83" x2="294.12" y2="161.74" stroke="#231815" stroke-width="0.6" />
<circle cx="303.46" cy="157.87" r="1.90" stroke="#231815" stroke-width="1.0" fill="#585150" />
<circle cx="303.46" cy="157.87" r="0.60" stroke="#231815" stroke-width="0.35" fill="#cfcac8" />
<line x1="315.56" y1="128.14" x2="303.46" y2="123.13" stroke="#231815" stroke-width="0.6" />
<line x1="298.74" y1="121.17" x2="294.12" y2="119.26" stroke="#231815" stroke-width="0.6" />
<circle cx="303.46" cy="123.13" r="1.90" stroke="#231815" stroke-width="1.0" fill="#585150" />
<circle cx="303.46" cy="123.13" r="0.60" stroke="#231815" stroke-width="0.35" fill="#cfcac8" />
<line x1="333.04" y1="110.66" x2="328.03" y2="98.56" stroke="#231815" stroke-width="0.6" />
<line x1="326.07" y1="93.84" x2="324.16" y2="89.22" stroke="#231815" stroke-width="0.6" />
<circle cx="328.03" cy="98.56" r="1.90" stroke="#231815" stroke-width="1.0" fill="#585150" />
<circle cx="328.03" cy="98.56" r="0.60" stroke="#231815" stroke-width="0.35" fill="#cfcac8" />
<line x1="453.90" y1="83.70" x2="453.90" y2="198.00" stroke="#231815" stroke-width="1.0"  shape-rendering="crispEdges"/>
<line x1="459.90" y1="83.70" x2="459.90" y2="198.00" stroke="#231815" stroke-width="1.1"  shape-rendering="crispEdges"/>
<path d="M412.6,83.7 V96.3 Q412.6,99 415.3,99 H453.9" stroke="#231815" stroke-width="0.8" fill="none" />
<path d="M412.6,197.4 V185.5 Q412.6,182.8 415.3,182.8 H453.9" stroke="#231815" stroke-width="0.8" fill="none" />
<path d="M395.3,121.6 H446.04999999999995 A1.8500000000000014,1.8500000000000014 0 0 1 446.04999999999995,125.3 H395.3" stroke="#231815" stroke-width="0.75" fill="none" />
<path d="M391.5,129.8 H446.0 A1.8999999999999915,1.8999999999999915 0 0 1 446.0,133.6 H391.5" stroke="#231815" stroke-width="0.75" fill="none" />
<path d="M390.5,147.8 H436.3 A1.6999999999999886,1.6999999999999886 0 0 1 436.3,151.2 H390.5" stroke="#231815" stroke-width="0.75" fill="none" />
<path d="M395.3,156.0 H436.1 A1.9000000000000057,1.9000000000000057 0 0 1 436.1,159.8 H395.3" stroke="#231815" stroke-width="0.75" fill="none" />
<text x="394.8" y="143.9" font-size="9.2" font-weight="bold" textLength="51.6" lengthAdjust="spacingAndGlyphs" fill="#fff" stroke="#231815" stroke-width="0.75">BONFIGLIOLI</text>
<circle cx="447.60" cy="157.50" r="5.30" stroke="#231815" stroke-width="0.8" fill="none" />
<path d="M459.9,83.7 L462.3,85.5 L476.3,94.3 Q478.6,96 478.6,103.4" stroke="#231815" stroke-width="1.0" fill="none" />
<line x1="462.10" y1="85.50" x2="462.10" y2="198.00" stroke="#231815" stroke-width="1.0"  shape-rendering="crispEdges"/>
<rect x="463.60" y="96.00" width="13.40" height="9.00" rx="0.5" stroke="#231815" stroke-width="0.7" fill="none" />
<circle cx="469.30" cy="100.20" r="3.30" stroke="#231815" stroke-width="0.8" fill="none" />
<circle cx="464.60" cy="123.80" r="6.00" stroke="#231815" stroke-width="0.9" fill="none" />
<line x1="473.40" y1="105.00" x2="473.40" y2="187.20" stroke="#231815" stroke-width="1.0"  shape-rendering="crispEdges"/>
<path d="M453.9,198 H461 Q462.1,198 462.1,196.5" stroke="#231815" stroke-width="1.0" fill="none" />
<path d="M462.1,187.2 H473.4" stroke="#231815" stroke-width="0.9" fill="none" />
<path d="M473.4,167 H478.9" stroke="#231815" stroke-width="0.9" fill="none" />
<line x1="478.90" y1="103.40" x2="478.90" y2="167.00" stroke="#231815" stroke-width="1.0"  shape-rendering="crispEdges"/>
<line x1="456.00" y1="112.50" x2="473.40" y2="112.50" stroke="#231815" stroke-width="0.6" />
<line x1="462.10" y1="172.00" x2="473.40" y2="172.00" stroke="#231815" stroke-width="0.6" />
<line x1="453.90" y1="178.00" x2="462.10" y2="178.00" stroke="#231815" stroke-width="0.5" />
<path d="M457,131.5 H470 M462,138 Q467,138 468,146 L470,152" stroke="#231815" stroke-width="0.6" fill="none" />
<line x1="476.20" y1="105.00" x2="476.20" y2="163.00" stroke="#231815" stroke-width="0.6" />
<rect x="478.90" y="103.40" width="48.20" height="61.90" rx="0" stroke="#231815" stroke-width="0.9" fill="none" />
<rect x="479.3" y="103.6" width="47.6" height="2.2" fill="#8e8987"/>
<rect x="479.3" y="162.8" width="47.6" height="2.3" fill="#8e8987"/>
<line x1="479.00" y1="107.60" x2="527.00" y2="107.60" stroke="#231815" stroke-width="1.0"  shape-rendering="crispEdges"/>
<line x1="479.00" y1="160.90" x2="527.00" y2="160.90" stroke="#231815" stroke-width="1.0"  shape-rendering="crispEdges"/>
<rect x="479.90" y="117.00" width="33.10" height="35.00" rx="1.5" stroke="#231815" stroke-width="0.8" fill="none" />
<line x1="483.30" y1="117.00" x2="511.30" y2="117.00" stroke="#231815" stroke-width="1.6"  shape-rendering="crispEdges"/>
<rect x="497" y="115.5" width="13.5" height="3" rx="1.5" fill="#231815"/>
<line x1="483.30" y1="151.80" x2="511.30" y2="151.80" stroke="#231815" stroke-width="1.6"  shape-rendering="crispEdges"/>
<rect x="497" y="150.3" width="13.5" height="3" rx="1.5" fill="#231815"/>
<rect x="513.1" y="118" width="14.9" height="33.4" fill="#fff" stroke="#231815" stroke-width="0.7"/>
<rect x="513.6" y="119.60" width="13.6" height="2.4" fill="#231815"/>
<rect x="513.6" y="123.65" width="13.6" height="2.4" fill="#231815"/>
<rect x="513.6" y="127.70" width="13.6" height="2.4" fill="#231815"/>
<rect x="513.6" y="131.75" width="13.6" height="2.4" fill="#231815"/>
<rect x="513.6" y="135.80" width="13.6" height="2.4" fill="#231815"/>
<rect x="513.6" y="139.85" width="13.6" height="2.4" fill="#231815"/>
<rect x="513.6" y="143.90" width="13.6" height="2.4" fill="#231815"/>
<rect x="513.6" y="147.95" width="13.6" height="2.4" fill="#231815"/>
<rect x="525.3" y="124" width="2.6" height="22" fill="#9a9593"/>
<path d="M527.1,102.6 H553 Q559.5,103 559.5,109 V160.5 L555.1,166.5 H527.1 Z" stroke="#231815" stroke-width="0.9" fill="#fff" />
<line x1="545.50" y1="102.60" x2="545.50" y2="166.50" stroke="#231815" stroke-width="1.0"  shape-rendering="crispEdges"/>
<line x1="555.10" y1="103.20" x2="555.10" y2="166.20" stroke="#231815" stroke-width="1.0"  shape-rendering="crispEdges"/>
<line x1="527.10" y1="116.50" x2="559.50" y2="116.50" stroke="#231815" stroke-width="1.0"  shape-rendering="crispEdges"/>
<line x1="527.10" y1="152.30" x2="559.50" y2="152.30" stroke="#231815" stroke-width="1.0"  shape-rendering="crispEdges"/>
<path d="M559.5,103.6 L573.5,104.6 Q578.8,106 578.8,111" stroke="#c6c2c0" stroke-width="0.7" fill="none" />
<path d="M559.5,166.4 H572 Q578.8,166 578.8,159" stroke="#c6c2c0" stroke-width="0.7" fill="none" />
<line x1="578.80" y1="111.00" x2="578.80" y2="159.00" stroke="#bdb9b7" stroke-width="0.7" stroke-dasharray="0.9 0.6"/>
<line x1="456.00" y1="134.50" x2="577.30" y2="134.50" stroke="#231815" stroke-width="1.0" stroke-dasharray="19.5 1.7 2.0 1.7" stroke-dashoffset="5.50" shape-rendering="crispEdges"/>
<line x1="718.20" y1="22.80" x2="773.60" y2="22.80" stroke="#231815" stroke-width="1.0"  shape-rendering="crispEdges"/>
<polygon points="718.20,22.80 723.80,21.60 723.80,24.00" fill="#231815"/>
<polygon points="773.60,22.80 768.00,24.00 768.00,21.60" fill="#231815"/>
<line x1="773.60" y1="20.60" x2="773.60" y2="123.50" stroke="#231815" stroke-width="1.0"  shape-rendering="crispEdges"/>
<line x1="718.20" y1="20.60" x2="718.20" y2="33.00" stroke="#231815" stroke-width="1.0"  shape-rendering="crispEdges"/>
<text x="746.80" y="20.50" font-size="9" text-anchor="middle" font-weight="normal" fill="#231815" >AD</text>
<line x1="678.40" y1="37.70" x2="759.60" y2="37.70" stroke="#231815" stroke-width="1.0"  shape-rendering="crispEdges"/>
<polygon points="678.40,37.70 684.00,36.50 684.00,38.90" fill="#231815"/>
<polygon points="759.60,37.70 754.00,38.90 754.00,36.50" fill="#231815"/>
<line x1="678.40" y1="34.90" x2="678.40" y2="81.00" stroke="#231815" stroke-width="1.0"  shape-rendering="crispEdges"/>
<line x1="759.60" y1="34.90" x2="759.60" y2="81.00" stroke="#231815" stroke-width="1.0"  shape-rendering="crispEdges"/>
<text x="719.20" y="35.60" font-size="9" text-anchor="middle" font-weight="normal" fill="#231815" >195</text>
<line x1="718.60" y1="40.20" x2="718.60" y2="202.00" stroke="#231815" stroke-width="1.0" stroke-dasharray="39.8 2 2 2" stroke-dashoffset="1.40" shape-rendering="crispEdges"/>
<line x1="669.80" y1="140.60" x2="770.60" y2="140.60" stroke="#231815" stroke-width="1.0" stroke-dasharray="27 1.7 2.0 1.7" stroke-dashoffset="13.30" shape-rendering="crispEdges"/>
<line x1="680.00" y1="98.60" x2="757.00" y2="98.60" stroke="#231815" stroke-width="1.0" stroke-dasharray="27 1.7 2.0 1.7" stroke-dashoffset="23.50" shape-rendering="crispEdges"/>
<line x1="680.00" y1="182.70" x2="757.00" y2="182.70" stroke="#231815" stroke-width="1.0" stroke-dasharray="27 1.7 2.0 1.7" stroke-dashoffset="23.50" shape-rendering="crispEdges"/>
<line x1="688.00" y1="91.00" x2="688.00" y2="190.50" stroke="#231815" stroke-width="1.0" stroke-dasharray="27 1.7 2.0 1.7" stroke-dashoffset="12.50" shape-rendering="crispEdges"/>
<line x1="749.50" y1="91.00" x2="749.50" y2="190.50" stroke="#231815" stroke-width="1.0" stroke-dasharray="27 1.7 2.0 1.7" stroke-dashoffset="12.50" shape-rendering="crispEdges"/>
<path d="M677.9,110 V84.2 Q677.9,82.8 679.3,82.8 H758.2 Q759.6,82.8 759.6,84.2 V110" stroke="#231815" stroke-width="1.1" fill="none" />
<path d="M678.7,171.6 V196.2 Q678.7,197.7 680.2,197.7 H757.8 Q759.3,197.7 759.3,196.2 V171.6" stroke="#231815" stroke-width="1.1" fill="none" />
<line x1="678.50" y1="84.60" x2="759.00" y2="84.60" stroke="#231815" stroke-width="0.6" />
<line x1="679.00" y1="195.80" x2="758.80" y2="195.80" stroke="#231815" stroke-width="0.6" />
<line x1="696.60" y1="83.00" x2="696.60" y2="197.50" stroke="#8f8a88" stroke-width="1.3" />
<line x1="741.40" y1="83.00" x2="741.40" y2="197.50" stroke="#8f8a88" stroke-width="1.3" />
<line x1="699.50" y1="83.00" x2="699.50" y2="197.50" stroke="#231815" stroke-width="1.0"  shape-rendering="crispEdges"/>
<line x1="738.90" y1="83.00" x2="738.90" y2="197.50" stroke="#231815" stroke-width="1.0"  shape-rendering="crispEdges"/>
<path d="M699.5,97 L704.2,88.6 Q705,87.2 706.6,87.2 H730.6 Q732.2,87.2 733,88.6 L738.9,97" stroke="#231815" stroke-width="0.8" fill="none" />
<path d="M699.5,183.8 L704.2,191.8 Q705,193.2 706.6,193.2 H730.6 Q732.2,193.2 733,191.8 L738.9,183.8" stroke="#231815" stroke-width="0.8" fill="none" />
<path d="M678.2,104 Q678.5,110 684,110 H696.6" stroke="#231815" stroke-width="0.8" fill="none" />
<path d="M759.3,104 Q759,110 753.5,110 H741.4" stroke="#231815" stroke-width="0.8" fill="none" />
<path d="M678.8,177.5 Q679,171.6 684.5,171.6 H696.6" stroke="#231815" stroke-width="0.8" fill="none" />
<path d="M759.2,177.5 Q759,171.6 753.5,171.6 H741.4" stroke="#231815" stroke-width="0.8" fill="none" />
<path d="M677.9,91.3 H675.5 V104 H673 V178.5 H675.5 V190 H678.7" stroke="#231815" stroke-width="0.9" fill="none" />
<path d="M759.6,91.3 H762 V104 H764.1 V178.5 H762 V190 H759.3" stroke="#231815" stroke-width="0.9" fill="none" />
<line x1="676.80" y1="95.00" x2="676.80" y2="104.00" stroke="#a9a4a2" stroke-width="0.5" />
<line x1="760.80" y1="95.00" x2="760.80" y2="104.00" stroke="#a9a4a2" stroke-width="0.5" />
<line x1="676.80" y1="178.00" x2="676.80" y2="190.00" stroke="#a9a4a2" stroke-width="0.5" />
<line x1="760.80" y1="178.00" x2="760.80" y2="190.00" stroke="#a9a4a2" stroke-width="0.5" />
<path d="M680.5,110 V121 Q680.5,122.5 682,122.5 H683.5 Q685.5,122.5 685.5,124.5 V156 Q685.5,158.5 683.5,159.5 L681,161 V171.6" stroke="#231815" stroke-width="0.7" fill="none" />
<path d="M756.7,110 V121 Q756.7,122.5 755.2,122.5 H753.7 Q751.7,122.5 751.7,124.5 V156 Q751.7,158.5 753.7,159.5 L756.2,161 V171.6" stroke="#231815" stroke-width="0.7" fill="none" />
<line x1="675.50" y1="127.00" x2="685.50" y2="127.00" stroke="#231815" stroke-width="1.0"  shape-rendering="crispEdges"/>
<line x1="751.70" y1="127.00" x2="761.80" y2="127.00" stroke="#231815" stroke-width="1.0"  shape-rendering="crispEdges"/>
<line x1="675.50" y1="133.50" x2="685.50" y2="133.50" stroke="#231815" stroke-width="1.0"  shape-rendering="crispEdges"/>
<line x1="751.70" y1="133.50" x2="761.80" y2="133.50" stroke="#231815" stroke-width="1.0"  shape-rendering="crispEdges"/>
<line x1="675.50" y1="147.00" x2="685.50" y2="147.00" stroke="#231815" stroke-width="1.0"  shape-rendering="crispEdges"/>
<line x1="751.70" y1="147.00" x2="761.80" y2="147.00" stroke="#231815" stroke-width="1.0"  shape-rendering="crispEdges"/>
<line x1="675.50" y1="153.50" x2="685.50" y2="153.50" stroke="#231815" stroke-width="1.0"  shape-rendering="crispEdges"/>
<line x1="751.70" y1="153.50" x2="761.80" y2="153.50" stroke="#231815" stroke-width="1.0"  shape-rendering="crispEdges"/>
<line x1="675.50" y1="104.00" x2="675.50" y2="178.50" stroke="#a9a4a2" stroke-width="0.6" />
<line x1="761.80" y1="104.00" x2="761.80" y2="178.50" stroke="#a9a4a2" stroke-width="1.4" />
<line x1="683.30" y1="124.00" x2="683.30" y2="157.00" stroke="#a9a4a2" stroke-width="0.6" />
<line x1="754.00" y1="124.00" x2="754.00" y2="157.00" stroke="#a9a4a2" stroke-width="0.6" />
<path d="M764.1,118.1 H770 Q772.6,118.5 773,126 V143 Q772.6,150.8 770,151.3 H764.1" stroke="#231815" stroke-width="0.9" fill="#fff" />
<line x1="768.60" y1="118.30" x2="768.60" y2="151.20" stroke="#a9a4a2" stroke-width="0.5" />
<circle cx="688.00" cy="98.60" r="3.50" stroke="#231815" stroke-width="0.8" fill="none" />
<circle cx="749.50" cy="98.60" r="3.50" stroke="#231815" stroke-width="0.8" fill="none" />
<circle cx="749.50" cy="182.70" r="3.50" stroke="#231815" stroke-width="0.8" fill="none" />
<path d="M684.4,184 V183.5 A3.3,3.3 0 0 1 691.0,183.5 V184" stroke="#231815" stroke-width="0.8" fill="none" />
<line x1="684.40" y1="183.50" x2="684.40" y2="227.40" stroke="#231815" stroke-width="1.0"  shape-rendering="crispEdges"/>
<line x1="691.00" y1="183.50" x2="691.00" y2="227.40" stroke="#231815" stroke-width="1.0"  shape-rendering="crispEdges"/>
<circle cx="687.70" cy="182.70" r="3.50" stroke="#231815" stroke-width="0.7" fill="none" />
<line x1="672.40" y1="179.00" x2="672.40" y2="257.70" stroke="#231815" stroke-width="1.0"  shape-rendering="crispEdges"/>
<line x1="674.50" y1="190.00" x2="674.50" y2="257.70" stroke="#231815" stroke-width="1.0"  shape-rendering="crispEdges"/>
<line x1="687.80" y1="186.00" x2="687.80" y2="243.30" stroke="#231815" stroke-width="1.0"  shape-rendering="crispEdges"/>
<line x1="749.50" y1="190.50" x2="749.50" y2="243.30" stroke="#231815" stroke-width="1.0"  shape-rendering="crispEdges"/>
<line x1="763.10" y1="178.00" x2="763.10" y2="257.70" stroke="#231815" stroke-width="1.0"  shape-rendering="crispEdges"/>
<line x1="764.70" y1="178.00" x2="764.70" y2="257.70" stroke="#231815" stroke-width="1.0"  shape-rendering="crispEdges"/>
<line x1="678.20" y1="225.80" x2="709.70" y2="225.80" stroke="#231815" stroke-width="1.0"  shape-rendering="crispEdges"/>
<polygon points="684.40,225.80 680.20,226.70 680.20,224.90" fill="#231815"/>
<polygon points="691.00,225.80 695.20,224.90 695.20,226.70" fill="#231815"/>
<text x="703.70" y="223.80" font-size="9" text-anchor="middle" font-weight="normal" fill="#231815" >16</text>
<line x1="687.80" y1="240.30" x2="749.50" y2="240.30" stroke="#231815" stroke-width="1.0"  shape-rendering="crispEdges"/>
<polygon points="687.80,240.30 693.40,239.10 693.40,241.50" fill="#231815"/>
<polygon points="749.50,240.30 743.90,241.50 743.90,239.10" fill="#231815"/>
<text x="719.00" y="238.20" font-size="9" text-anchor="middle" font-weight="normal" fill="#231815" >150</text>
<line x1="650.00" y1="254.70" x2="785.90" y2="254.70" stroke="#231815" stroke-width="1.0"  shape-rendering="crispEdges"/>
<polygon points="672.40,254.70 666.80,255.90 666.80,253.50" fill="#231815"/>
<polygon points="674.50,254.70 680.10,253.50 680.10,255.90" fill="#231815"/>
<polygon points="763.10,254.70 757.50,255.90 757.50,253.50" fill="#231815"/>
<polygon points="764.70,254.70 770.30,253.50 770.30,255.90" fill="#231815"/>
<text x="719.20" y="252.90" font-size="9" text-anchor="middle" font-weight="normal" fill="#231815" >210</text>
<text x="659.50" y="252.90" font-size="9" text-anchor="middle" font-weight="normal" fill="#231815" >4.5</text>
<text x="777.30" y="252.90" font-size="9" text-anchor="middle" font-weight="normal" fill="#231815" >4.5</text>
</svg>
</body></html>
